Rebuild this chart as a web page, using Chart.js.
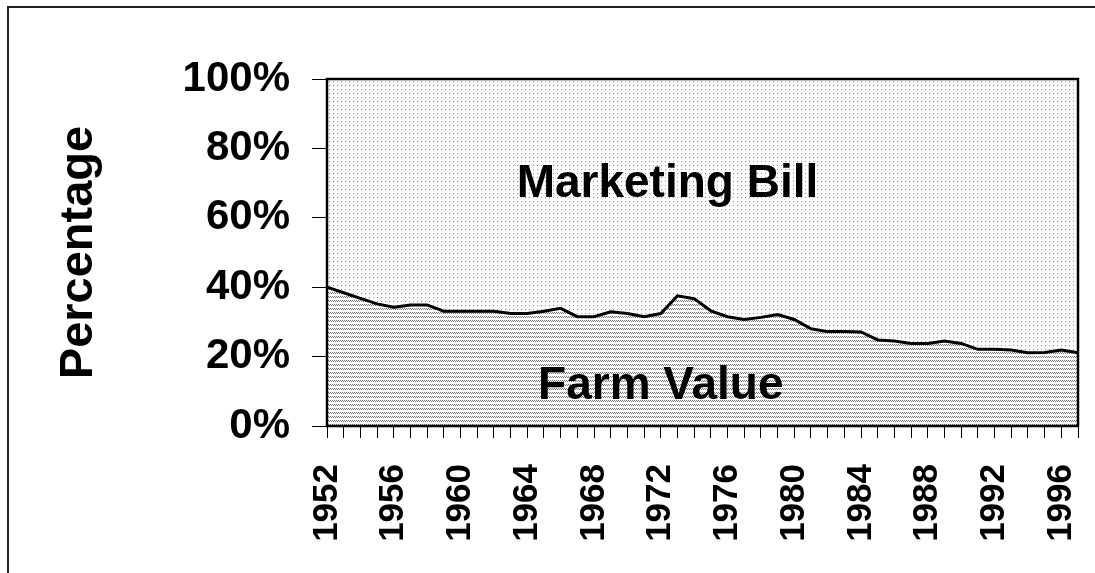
<!DOCTYPE html>
<html>
<head>
<meta charset="utf-8">
<script src="https://cdn.jsdelivr.net/npm/chart.js@4/dist/chart.umd.min.js"></script>
<style>
  body { margin: 0; background: #fff; }
  #wrap { width: 1095px; height: 573px; }
</style>
</head>
<body>
<div id="wrap"><canvas id="grafico" width="1095" height="573"></canvas></div>
<script>
// Años 1952-1997
const years = [
  1952, 1953, 1954, 1955, 1956, 1957, 1958, 1959, 1960, 1961,
  1962, 1963, 1964, 1965, 1966, 1967, 1968, 1969, 1970, 1971,
  1972, 1973, 1974, 1975, 1976, 1977, 1978, 1979, 1980, 1981,
  1982, 1983, 1984, 1985, 1986, 1987, 1988, 1989, 1990, 1991,
  1992, 1993, 1994, 1995, 1996, 1997
];

// Farm value share (%)
const farmValue = [
  40.0, 38.4, 36.8, 35.2, 34.2, 34.9, 34.9, 33.1, 33.1, 33.1,
  33.1, 32.4, 32.4, 33.1, 33.9, 31.5, 31.5, 32.9, 32.4, 31.5,
  32.4, 37.5, 36.7, 33.2, 31.5, 30.7, 31.3, 32.1, 30.7, 28.0,
  27.2, 27.2, 27.1, 24.8, 24.5, 23.8, 23.8, 24.5, 23.8, 22.1,
  22.1, 21.9, 21.1, 21.2, 21.9, 21.1
];

// Marketing bill share (%)
const marketingBill = [
  60.0, 61.6, 63.2, 64.8, 65.8, 65.1, 65.1, 66.9, 66.9, 66.9,
  66.9, 67.6, 67.6, 66.9, 66.1, 68.5, 68.5, 67.1, 67.6, 68.5,
  67.6, 62.5, 63.3, 66.8, 68.5, 69.3, 68.7, 67.9, 69.3, 72.0,
  72.8, 72.8, 72.9, 75.2, 75.5, 76.2, 76.2, 75.5, 76.2, 77.9,
  77.9, 78.1, 78.9, 78.8, 78.1, 78.9
];

const yTicks = [0, 20, 40, 60, 80, 100];
const labelEvery = 4;

const fuente = '"Liberation Sans", Arial, sans-serif';

function crearPatron(tipo) {
    const c = document.createElement('canvas');
    c.width = 4;
    c.height = 4;
    const g = c.getContext('2d');
    g.fillStyle = '#ffffff';
    g.fillRect(0, 0, 4, 4);
    g.fillStyle = '#7a7a7a';
    if (tipo === 'farm') {
        g.fillRect(0, 0, 1, 1);
        g.fillRect(2, 0, 1, 1);
        g.fillRect(1, 1, 1, 1);
        g.fillRect(3, 1, 1, 1);
    } else {
        g.fillStyle = '#8c8c8c';
        g.fillRect(1, 1, 1, 1);
    }
    return g.createPattern(c, 'repeat');
}

const marcoPlugin = {
    id: 'marco',
    afterDatasetsDraw(chart) {
        const ctx = chart.ctx;
        const a = chart.chartArea;
        const x = chart.scales.x;
        const y = chart.scales.y;
        ctx.save();
        ctx.fillStyle = '#000';
        ctx.font = 'bold 46px ' + fuente;
        ctx.textAlign = 'center';
        ctx.textBaseline = 'alphabetic';
        ctx.fillText('Marketing Bill', x.getPixelForValue(20.4), y.getPixelForValue(66));
        ctx.fillText('Farm Value', x.getPixelForValue(20), y.getPixelForValue(7.8));
        ctx.strokeStyle = '#000';
        ctx.lineWidth = 2.5;
        ctx.strokeRect(a.left, a.top, a.right - a.left, a.bottom - a.top);
        ctx.restore();
    },
    afterDraw(chart) {
        const ctx = chart.ctx;
        ctx.save();
        ctx.strokeStyle = '#222';
        ctx.lineWidth = 2;
        ctx.strokeRect(8, 7, 2000, 2000);
        ctx.restore();
    }
};

function mostrarGrafico() {
    const ctx = document.getElementById('grafico').getContext('2d');
    new Chart(ctx, {
        type: 'line',
        data: {
            labels: years,
            datasets: [{
                label: 'Farm Value',
                data: farmValue,
                borderColor: '#000',
                borderWidth: 3,
                backgroundColor: crearPatron('farm'),
                fill: 'origin',
                pointRadius: 0,
                tension: 0
            }, {
                label: 'Marketing Bill',
                data: marketingBill,
                borderColor: 'rgba(0,0,0,0)',
                borderWidth: 0,
                backgroundColor: crearPatron('marketing'),
                fill: '-1',
                pointRadius: 0,
                tension: 0
            }]
        },
        options: {
            responsive: false,
            animation: false,
            layout: { padding: { left: 0, top: 79, right: 17, bottom: 0 } },
            plugins: {
                legend: { display: false },
                tooltip: { enabled: false }
            },
            scales: {
                x: {
                    type: 'category',
                    offset: false,
                    grid: {
                        drawOnChartArea: false,
                        drawTicks: true,
                        tickLength: 12,
                        color: '#000',
                        lineWidth: 1
                    },
                    border: { display: true, color: '#000', width: 2 },
                    ticks: {
                        autoSkip: false,
                        minRotation: 90,
                        maxRotation: 90,
                        padding: 26,
                        color: '#000',
                        font: { family: fuente, size: 35, weight: 'bold' },
                        callback: function (v, i) {
                            return i % labelEvery === 0 ? String(years[i]) : '';
                        }
                    },
                    afterFit(scale) {
                        scale.height = 147;
                        scale.paddingLeft = 0;
                        scale.paddingRight = 0;
                    }
                },
                y: {
                    stacked: true,
                    min: 0,
                    max: 100,
                    afterBuildTicks(scale) {
                        scale.ticks = yTicks.map(v => ({ value: v }));
                    },
                    grid: {
                        drawOnChartArea: false,
                        drawTicks: true,
                        tickLength: 15,
                        color: '#000',
                        lineWidth: 1
                    },
                    border: { display: true, color: '#000', width: 2 },
                    ticks: {
                        padding: 22,
                        color: '#000',
                        font: { family: fuente, size: 42, weight: 'bold' },
                        callback: v => v + '%'
                    },
                    title: {
                        display: true,
                        text: 'Percentage',
                        color: '#000',
                        font: { family: fuente, size: 47, weight: 'bold' },
                        padding: { top: 51, bottom: 0 }
                    },
                    afterFit(scale) {
                        scale.width = 327;
                        scale.paddingTop = 0;
                        scale.paddingBottom = 0;
                    }
                }
            }
        },
        plugins: [marcoPlugin]
    });
}

mostrarGrafico();
</script>
</body>
</html>
